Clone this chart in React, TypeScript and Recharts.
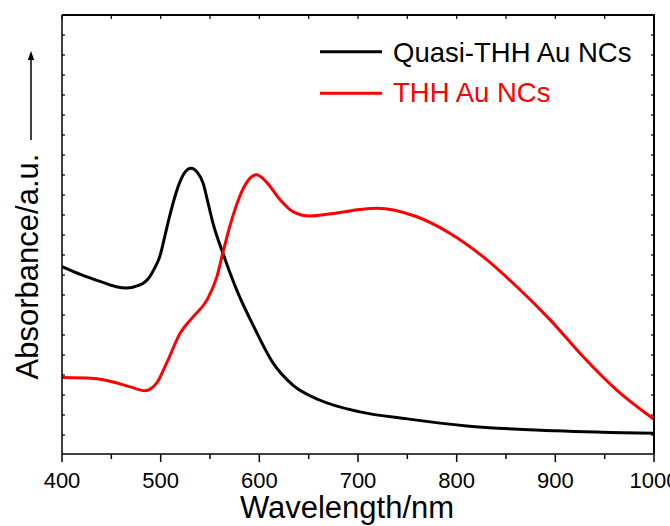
import React from 'react';
import { LineChart, Line, XAxis, YAxis, Legend } from 'recharts';

// wavelength (nm) and absorbance (a.u.)
const quasiNm = [400, 420, 440, 455, 465, 479, 489, 494, 499, 504, 509, 519, 524, 531, 537, 543, 548, 553, 563, 577, 594, 614, 634, 661, 702, 750, 810, 900, 1000];
const quasiAbs = [0.427, 0.408, 0.392, 0.381, 0.378, 0.385, 0.404, 0.424, 0.449, 0.494, 0.541, 0.617, 0.64, 0.651, 0.642, 0.617, 0.572, 0.526, 0.458, 0.374, 0.292, 0.207, 0.157, 0.123, 0.096, 0.08, 0.064, 0.053, 0.047];

const thhNm = [400, 432, 452, 469, 484, 496, 506, 520, 533, 547, 557, 563, 570, 580, 589, 597, 607, 621, 634, 651, 675, 702, 719, 759, 793, 827, 861, 895, 928, 962, 1000];
const thhAbs = [0.174, 0.172, 0.164, 0.153, 0.144, 0.162, 0.207, 0.276, 0.313, 0.351, 0.404, 0.458, 0.518, 0.586, 0.624, 0.636, 0.62, 0.579, 0.552, 0.542, 0.548, 0.557, 0.56, 0.541, 0.503, 0.449, 0.381, 0.305, 0.222, 0.146, 0.079];

const xTicks = [400, 450, 500, 550, 600, 650, 700, 750, 800, 850, 900, 950, 1000];
const xLabels = [400, 500, 600, 700, 800, 900, 1000];
const yTickStep = 20 / 439;
const yTicks = Array.from({ length: 22 }, (_, i) => 1 - i * yTickStep);

const quasiData = quasiNm.map((nm, i) => ({ nm, abs: quasiAbs[i] }));
const thhData = thhNm.map((nm, i) => ({ nm, abs: thhAbs[i] }));

const FONT = 'Arial, "Liberation Sans", sans-serif';
// plot box (chart margins + axis sizes), used for the top/right frame overlay
const PLOT = { left: 62, top: 15, width: 592, height: 439 };

const XTick = ({ x, y, payload }: any) => {
  const major = xLabels.includes(payload.value);
  return (
    <g>
      <line x1={x} x2={x} y1={y} y2={y + (major ? 8 : 5)} stroke="#000" strokeWidth={1.5} />
      {major && (
        <text x={x} y={y + 33.5} textAnchor="middle" fontSize={22} fontFamily={FONT} fill="#000">
          {payload.value}
        </text>
      )}
    </g>
  );
};

const YTick = ({ x, y }: any) => <line x1={x} x2={x + 3} y1={y} y2={y} stroke="#000" strokeWidth={1.2} />;

const XLabel = ({ viewBox }: any) => (
  <text x={viewBox.x + viewBox.width / 2 - 11} y={viewBox.y + 64} textAnchor="middle" fontSize={31} fontFamily={FONT} fill="#000">
    Wavelength/nm
  </text>
);

const YLabel = ({ viewBox }: any) => {
  const cy = viewBox.y + 251.5;
  return (
    <g>
      <text x={38} y={cy} transform={`rotate(-90, 38, ${cy})`} textAnchor="middle" fontSize={31} fontFamily={FONT} fill="#000">
        Absorbance/a.u.
      </text>
      <line x1={31} x2={31} y1={140} y2={58} stroke="#000" strokeWidth={1.5} />
      <polygon points="31,51 27.8,60 34.2,60" fill="#000" />
    </g>
  );
};

const LegendBox = ({ payload }: any) => (
  <svg width={340} height={110}>
    {payload.map((p: any, i: number) => (
      <g key={p.value}>
        <line x1={20} x2={82} y1={31.7 + i * 41.6} y2={31.7 + i * 41.6} stroke={p.color} strokeWidth={3} />
        <text x={93} y={41.7 + i * 40} fontSize={27.5} fontFamily={FONT} fill={p.color}>
          {p.value}
        </text>
      </g>
    ))}
  </svg>
);

// top and right sides of the box with inner ticks
const Frame = () => {
  const right = PLOT.left + PLOT.width;
  const sx = (v: number) => PLOT.left + ((v - 400) / 600) * PLOT.width;
  const sy = (v: number) => PLOT.top + (1 - v) * PLOT.height;
  return (
    <>
      <div
        style={{
          position: 'absolute',
          left: PLOT.left,
          top: PLOT.top - 1,
          width: PLOT.width + 1,
          height: PLOT.height + 1,
          borderTop: '2px solid #000',
          borderRight: '2px solid #000',
          boxSizing: 'border-box',
          pointerEvents: 'none',
        }}
      />
      <svg width={670} height={526} style={{ position: 'absolute', left: 0, top: 0, pointerEvents: 'none' }}>
        {xTicks.map((t) => (
          <line key={`t${t}`} x1={sx(t)} x2={sx(t)} y1={PLOT.top} y2={PLOT.top + 4} stroke="#000" strokeWidth={1.2} />
        ))}
        {yTicks.map((t, i) => (
          <line key={`r${i}`} x1={right} x2={right - 3} y1={sy(t)} y2={sy(t)} stroke="#000" strokeWidth={1.2} />
        ))}
      </svg>
    </>
  );
};

export default function App() {
  return (
    <div style={{ position: 'absolute', left: 0, top: 0, width: 670, height: 526, background: '#fff' }}>
      <LineChart width={670} height={526} margin={{ top: PLOT.top, right: 16, bottom: 0, left: 0 }}>
        <XAxis
          dataKey="nm"
          type="number"
          domain={[400, 1000]}
          ticks={xTicks}
          interval={0}
          height={72}
          tickSize={0}
          tickMargin={0}
          tickLine={false}
          tick={<XTick />}
          axisLine={{ stroke: '#000', strokeWidth: 1.5 }}
          allowDuplicatedCategory={false}
          label={<XLabel />}
        />
        <YAxis
          type="number"
          domain={[0, 1]}
          ticks={yTicks}
          interval={0}
          width={PLOT.left}
          tickSize={0}
          tickMargin={0}
          tickLine={false}
          tick={<YTick />}
          axisLine={{ stroke: '#000', strokeWidth: 1.5 }}
          label={<YLabel />}
        />
        <Legend
          layout="vertical"
          align="center"
          verticalAlign="middle"
          content={<LegendBox />}
          wrapperStyle={{ left: 300, top: 20, width: 340, height: 110 }}
        />
        <Line data={quasiData} dataKey="abs" name="Quasi-THH Au NCs" type="monotone" stroke="#000000" strokeWidth={3} dot={false} isAnimationActive={false} />
        <Line data={thhData} dataKey="abs" name="THH Au NCs" type="monotone" stroke="#ff0000" strokeWidth={3} dot={false} isAnimationActive={false} />
      </LineChart>
      <Frame />
    </div>
  );
}
